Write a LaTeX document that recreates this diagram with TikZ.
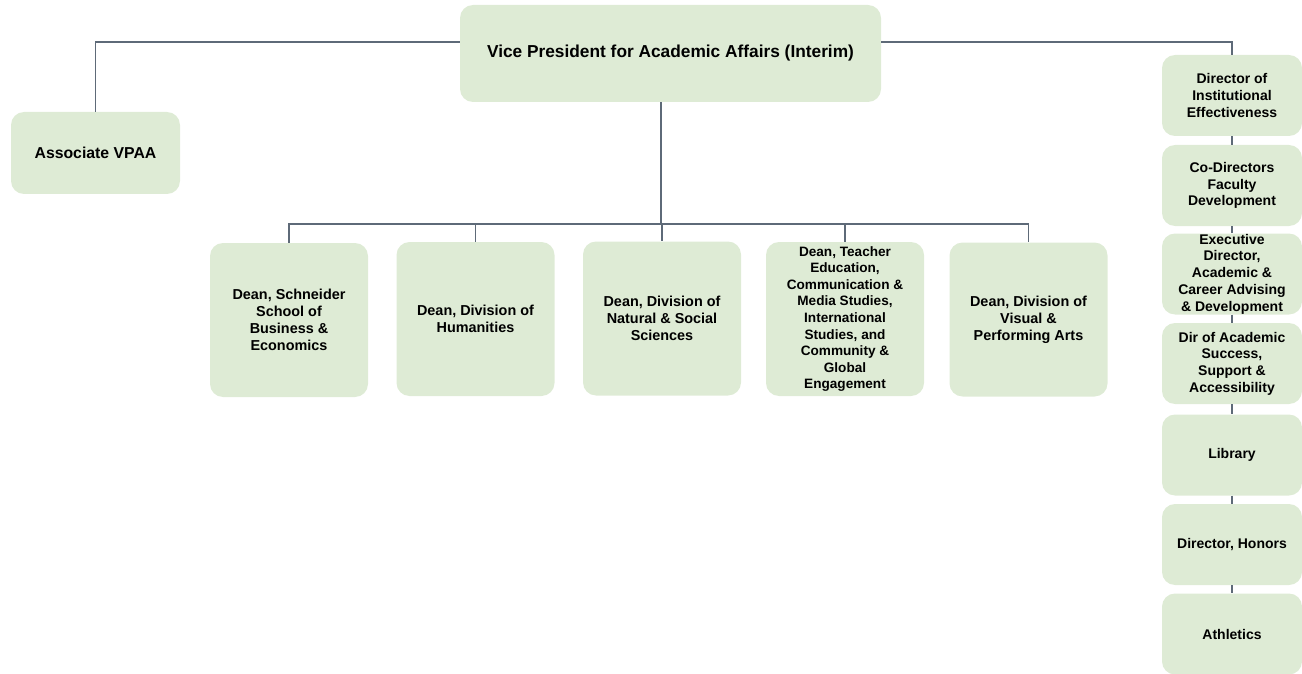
\documentclass[tikz,border=0pt]{standalone}
\usepackage{fontspec}
\setmainfont{Liberation Sans}
\usetikzlibrary{positioning, calc}
\definecolor{vpgreen}{HTML}{DEEBD5}
\definecolor{vpslate}{HTML}{5E6A78}
\tikzset{edge/.style={color=vpslate, line width=1.3pt}}
\tikzset{unit/.style={fill=vpgreen, rounded corners=13pt, inner sep=0pt, align=center, font=\bfseries\fontsize{14.4}{17}\selectfont}}
\tikzset{dean/.style={unit, minimum width=158pt, minimum height=154pt}}
\tikzset{office/.style={unit, minimum width=140pt, minimum height=81pt, font=\bfseries\fontsize{14}{16.7}\selectfont}}

\begin{document}
\begin{tikzpicture}[x=1pt, y=-1pt]
        \useasboundingbox (0,0) rectangle (1302,674);

        \node[unit, minimum width=421pt, minimum height=97pt, font=\bfseries\fontsize{17.3}{20}\selectfont] (VP) at (670.5, 53.5)
        {\raisebox{-3pt}{Vice President for Academic Affairs (Interim)}};
        \node[unit, minimum width=169pt, minimum height=82pt, font=\bfseries\fontsize{15.8}{19}\selectfont] (Assoc) at (95.5, 153)
        {Associate VPAA};

        \node[dean] (D1) at (289, 320) {Dean, Schneider\\School of\\Business \&\\Economics};
        \node[dean] (D2) at (475.5, 319) {Dean, Division of\\Humanities};
        \node[dean] (D3) at (662, 318.5) {Dean, Division of\\Natural \& Social\\Sciences};
        \node[dean, font=\bfseries\fontsize{13.6}{16.6}\selectfont] (D4) at (845, 319)
        {Dean, Teacher\\Education,\\Communication \&\\Media Studies,\\International\\Studies, and\\Community \&\\Global\\Engagement};
        \node[dean] (D5) at (1028.5, 319.5) {Dean, Division of\\Visual \&\\Performing Arts};

        \node[office] (R1) at (1232, 95.5) {Director of\\Institutional\\Effectiveness};
        \node[office] (R2) at (1232, 185.5) {Co-Directors\\Faculty\\Development};
        \node[office] (R3) at (1232, 274) {Executive\\Director,\\Academic \&\\Career Advising\\\& Development};
        \node[office] (R4) at (1232, 363.5) {Dir of Academic\\Success,\\Support \&\\Accessibility};
        \node[office] (R5) at (1232, 455) {Library};
        \node[office] (R6) at (1232, 544.5) {Director, Honors};
        \node[office] (R7) at (1232, 634) {Athletics};

        \coordinate (bus) at (661, 224);

        \draw [edge] ([yshift=11.5pt]VP.west) -| (Assoc.north);
        \draw [edge] ([yshift=11.5pt]VP.east) -| (R1.north);
        \draw [edge] ([xshift=-9.5pt]VP.south) -- (bus);
        \foreach \d in {D1, D2, D3, D4, D5}
            \draw [edge] (bus) -| (\d.north);

        \draw [edge] (R1) -- (R2);
        \draw [edge] (R2) -- (R3);
        \draw [edge] (R3) -- (R4);
        \draw [edge] (R4) -- (R5);
        \draw [edge] (R5) -- (R6);
        \draw [edge] (R6) -- (R7);
    \end{tikzpicture}
\end{document}
